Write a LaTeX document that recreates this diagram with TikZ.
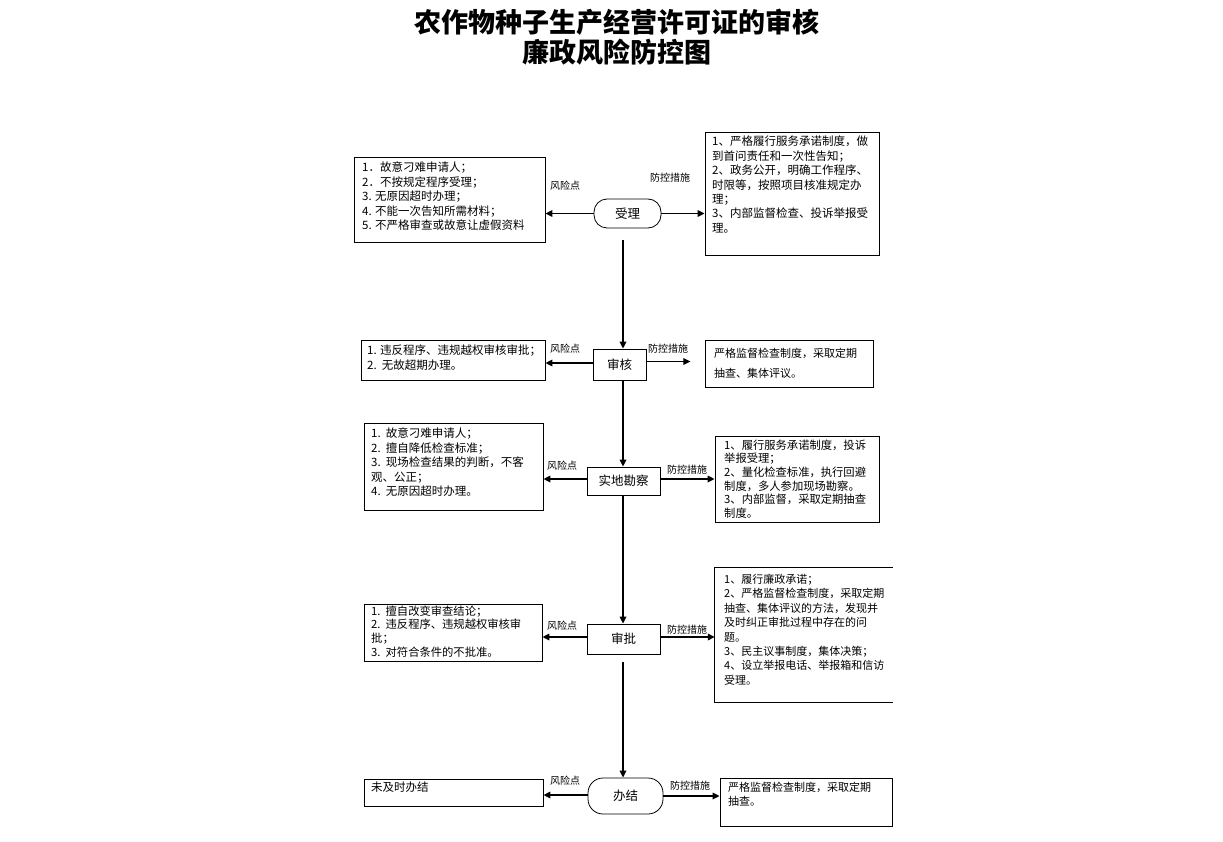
\documentclass[tikz,border=0pt]{standalone}
\usepackage{fontspec}
\newfontfamily\cjk{Noto Sans CJK SC}
\usetikzlibrary{arrows.meta}
\tikzset{
  proc/.style={draw, line width=0.8pt, font=\cjk\fontsize{12.5}{14}\selectfont, inner sep=0pt},
  stad/.style={proc, rounded corners=13pt},
  infobox/.style={draw, line width=0.8pt, inner sep=0pt},
  txt/.style={font=\cjk\fontsize{11.5}{14.4}\selectfont, align=left, anchor=north west, inner sep=0pt},
  small/.style={font=\cjk\fontsize{11.3}{13.6}\selectfont, align=left, anchor=north west, inner sep=0pt},
  lbl/.style={font=\cjk\fontsize{10}{12}\selectfont, inner sep=0pt},
  arr/.style={line width=1.6pt, -{Triangle[length=7pt,width=6.5pt]}},
}
\begin{document}
\begin{tikzpicture}[x=1pt,y=-1pt]
\useasboundingbox (0,0) rectangle (1223,842);
% title
\node[font=\cjk\bfseries\fontsize{27}{30}\selectfont, align=center] (title) at (617,37) {农作物种子生产经营许可证的审核\\廉政风险防控图};

% process nodes
\node[stad, minimum width=67pt, minimum height=29pt] (shouli) at (627.5,213.5) {受理};
\node[proc, minimum width=53pt, minimum height=31pt] (shenhe) at (619.5,364.5) {审核};
\node[proc, minimum width=73pt, minimum height=28pt] (kancha) at (623.5,481) {实地勘察};
\node[proc, minimum width=73pt, minimum height=30pt] (shenpi) at (623.5,639) {审批};
\node[stad, minimum width=75pt, minimum height=36pt, rounded corners=15pt] (banjie) at (625.5,796) {办结};

% boxes
\node[infobox, minimum width=191pt, minimum height=85pt] (L1) at (449.5,199.5) {};
\node[infobox, minimum width=174pt, minimum height=123pt] (R1) at (792,193.5) {};
\node[infobox, minimum width=184pt, minimum height=40pt] (L2) at (453,360) {};
\node[infobox, minimum width=168pt, minimum height=47pt] (R2) at (789,363.5) {};
\node[infobox, minimum width=179pt, minimum height=87pt] (L3) at (453.5,466.5) {};
\node[infobox, minimum width=164pt, minimum height=86pt] (R3) at (797,479) {};
\node[infobox, minimum width=178pt, minimum height=57pt] (L4) at (453,632.5) {};
\node[inner sep=0pt, minimum width=178pt, minimum height=134pt] (R4) at (804,635) {};
\draw[line width=0.8pt] (R4.north east) -- (R4.north west) -- (R4.south west) -- (R4.south east);
\node[infobox, minimum width=179pt, minimum height=27pt] (L5) at (453.5,792.5) {};
\node[infobox, minimum width=172pt, minimum height=48pt] (R5) at (806,802) {};

% texts
\begin{scope}
\clip (L1.north west) rectangle (L1.south east);
\node[txt] (tL1) at (362,162) {1．故意刁难申请人；\\2．不按规定程序受理；\\3. 无原因超时办理；\\4. 不能一次告知所需材料；\\5. 不严格审查或故意让虚假资料};
\end{scope}
\node[txt] (tR1) at (712,136) {1、严格履行服务承诺制度，做\\到首问责任和一次性告知；\\2、政务公开，明确工作程序、\\时限等，按照项目核准规定办\\理；\\3、内部监督检查、投诉举报受\\理。};
\node[txt] (tL2) at (367,345) {1. 违反程序、违规越权审核审批；\\2.\ \ 无故超期办理。};
\node[txt, font=\cjk\fontsize{11}{20}\selectfont] (tR2) at (714,348) {严格监督检查制度，采取定期\\抽查、集体评议。};
\node[txt] (tL3) at (371,428) {1.\ \ 故意刁难申请人；\\2.\ \ 擅自降低检查标准；\\3.\ \ 现场检查结果的判断，不客\\观、公正；\\4.\ \ 无原因超时办理。};
\node[small] (tR3) at (724,439.5) {1、履行服务承诺制度，投诉\\举报受理；\\2、量化检查标准，执行回避\\制度，多人参加现场勘察。\\3、内部监督，采取定期抽查\\制度。};
\node[small] (tL4) at (371,605.5) {1.\ \ 擅自改变审查结论；\\2.\ \ 违反程序、违规越权审核审\\批；\\3.\ \ 对符合条件的不批准。};
\node[txt, font=\cjk\fontsize{11}{14.4}\selectfont] (tR4) at (724,574) {1、履行廉政承诺；\\2、严格监督检查制度，采取定期\\抽查、集体评议的方法，发现并\\及时纠正审批过程中存在的问\\题。\\3、民主议事制度，集体决策；\\4、设立举报电话、举报箱和信访\\受理。};
\node[txt] (tL5) at (371,782) {未及时办结};
\node[txt, font=\cjk\fontsize{11}{13.5}\selectfont] (tR5) at (728,782) {严格监督检查制度，采取定期\\抽查。};

% labels
\node[lbl] (f1) at (565,186) {风险点};
\node[lbl] (c1) at (670,178) {防控措施};
\node[lbl] (f2) at (565,349) {风险点};
\node[lbl] (c2) at (668,349) {防控措施};
\node[lbl] (f3) at (562,466) {风险点};
\node[lbl] (c3) at (687,470) {防控措施};
\node[lbl] (f4) at (562,626) {风险点};
\node[lbl] (c4) at (687,630) {防控措施};
\node[lbl] (f5) at (565,781) {风险点};
\node[lbl] (c5) at (690,786) {防控措施};

% horizontal arrows
\draw[arr] (shouli.west) -- (shouli.west -| L1.east);
\draw[arr] (shouli.east) -- (shouli.east -| R1.west);
\draw[arr] ([yshift=1.5pt]shenhe.west) -- ([yshift=1.5pt]shenhe.west -| L2.east);
\draw[arr] ([yshift=3pt]shenhe.east) -- ++(44,0) coordinate (e2);
\draw[arr] ([yshift=2pt]kancha.west) -- ([yshift=2pt]kancha.west -| L3.east);
\draw[arr] ([yshift=2pt]kancha.east) -- ([yshift=2pt]kancha.east -| R3.west);
\draw[arr] ([yshift=2pt]shenpi.west) -- ([yshift=2pt]shenpi.west -| L4.east);
\draw[arr] ([yshift=2pt]shenpi.east) -- ([yshift=2pt]shenpi.east -| R4.west);
\draw[arr] ([yshift=1pt]banjie.west) -- ([yshift=1pt]banjie.west -| L5.east);
\draw[arr] (banjie.east) -- (banjie.east -| R5.west);

% vertical arrows
\coordinate (g1) at (623,240);
\coordinate (g4) at (623,662);
\draw[arr] (g1) -- (g1 |- shenhe.north);
\draw[arr] (g1 |- shenhe.south) -- (g1 |- kancha.north);
\draw[arr] (g1 |- kancha.south) -- (g1 |- shenpi.north);
\draw[arr] (g4) -- (g4 |- banjie.north);
\end{tikzpicture}
\end{document}
